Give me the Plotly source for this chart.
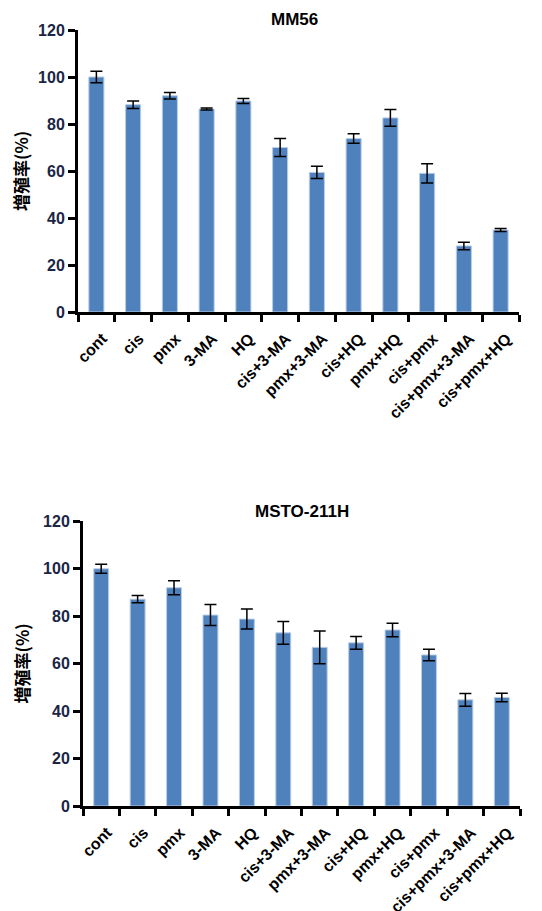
import plotly.graph_objects as go

categories = ["cont", "cis", "pmx", "3-MA", "HQ", "cis+3-MA", "pmx+3-MA",
              "cis+HQ", "pmx+HQ", "cis+pmx", "cis+pmx+3-MA", "cis+pmx+HQ"]

mm56_values = [100.0, 88.2, 92.0, 86.4, 89.8, 70.0, 59.4, 73.8, 82.6, 59.0, 28.1, 34.9]
mm56_errors = [2.4, 1.6, 1.4, 0.4, 1.1, 3.8, 2.6, 2.0, 3.6, 4.1, 1.6, 0.6]

msto_values = [99.9, 87.1, 91.9, 80.4, 78.7, 72.9, 66.8, 68.7, 74.1, 63.6, 44.7, 45.7]
msto_errors = [1.9, 1.5, 2.9, 4.4, 4.2, 4.8, 6.9, 2.7, 2.8, 2.4, 2.7, 1.8]

titles = ["MM56", "MSTO-211H"]
y_title = "増殖率(%)"
y_ticks = [0, 20, 40, 60, 80, 100, 120]

W, H = 542, 911
BAR = "#4F81BD"
TICKC = "#1B2545"

fig = go.Figure()

panels = [
    dict(vals=mm56_values, errs=mm56_errors, x0=78, x1=519, ytop=30, ybot=312, xa="x", ya="y"),
    dict(vals=msto_values, errs=msto_errors, x0=83, x1=520, ytop=521, ybot=806, xa="x2", ya="y2"),
]

for i, p in enumerate(panels):
    fig.add_trace(go.Bar(
        x=categories, y=p["vals"],
        error_y=dict(type="data", array=p["errs"], visible=True, color="black",
                     thickness=1.5, width=6),
        marker=dict(color=BAR, line=dict(color="#B9CDE5", width=1)),
        xaxis=p["xa"], yaxis=p["ya"], showlegend=False,
    ))
    xd = [p["x0"] / W, p["x1"] / W]
    yd = [(H - p["ybot"]) / H, (H - p["ytop"]) / H]
    suffix = "" if i == 0 else "2"
    fig.layout["xaxis" + suffix] = dict(
        domain=xd, anchor="y" + suffix, type="category", range=[-0.5, 11.5],
        showline=True, linecolor="black", linewidth=3, automargin=False,
        ticks="outside", tickson="boundaries", ticklen=7, tickwidth=3, tickcolor="black",
        tickangle=-45, ticklabelstandoff=8, ticklabelshift=6,
        tickfont=dict(family="Liberation Sans", size=16, color="black", weight="bold"),
        showgrid=False, zeroline=False,
    )
    fig.layout["yaxis" + suffix] = dict(
        domain=yd, anchor="x" + suffix, range=[0, 120], tickvals=y_ticks,
        showline=True, linecolor="black", linewidth=3, automargin=False,
        ticks="outside", ticklen=7, tickwidth=3, tickcolor="black",
        tickfont=dict(family="Liberation Sans", size=16, color=TICKC, weight="bold"),
        showgrid=False, zeroline=False,
    )
    fig.add_annotation(
        x=(294 if i == 0 else 302) / W, y=(H - (20 if i == 0 else 511)) / H,
        xref="paper", yref="paper", text="<b>%s</b>" % titles[i], showarrow=False,
        font=dict(family="Liberation Sans", size=17, color="black"),
        xanchor="center", yanchor="middle",
    )
    fig.add_annotation(
        x=21 / W, y=(H - (p["ytop"] + p["ybot"]) / 2) / H,
        xref="paper", yref="paper", text="<b>%s</b>" % y_title, showarrow=False,
        textangle=-90, font=dict(family="Noto Sans CJK JP", size=17, color="black"),
        xanchor="center", yanchor="middle",
    )

fig.update_layout(
    width=W, height=H, margin=dict(l=0, r=0, t=0, b=0),
    paper_bgcolor="white", plot_bgcolor="white", bargap=0.59,
    template="none",
)

fig.write_html(
    "out.html",
    config={"displayModeBar": False},
    post_script="document.body.style.margin='0';document.body.style.overflow='hidden';",
)
